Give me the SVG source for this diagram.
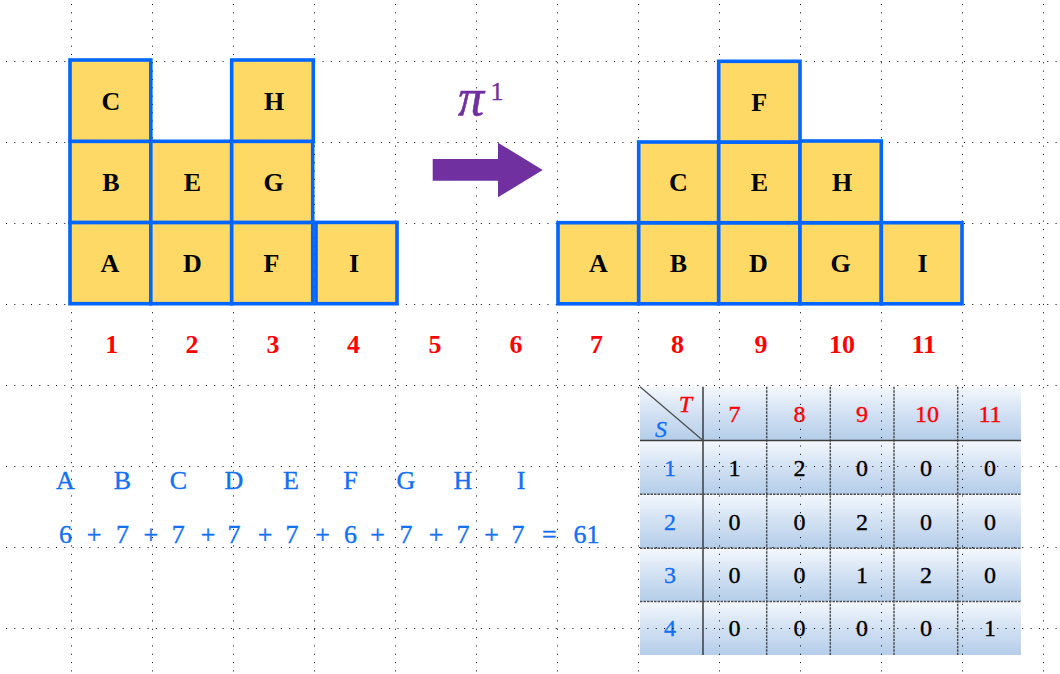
<svg xmlns="http://www.w3.org/2000/svg" width="1060" height="674" viewBox="0 0 1060 674">
<defs>
<linearGradient id="rowgrad" x1="0" y1="0" x2="0" y2="1">
<stop offset="0" stop-color="#F4F8FD"/>
<stop offset="0.45" stop-color="#D5E3F4"/>
<stop offset="1" stop-color="#B4CDE9"/>
</linearGradient>
<style>
.grid{stroke:#000;stroke-width:1;stroke-dasharray:1 7.33;fill:none}
.box{fill:#FFD966;stroke:#0066FF;stroke-width:3.6}
.lbl{font-family:"Liberation Serif",serif;font-weight:bold;font-size:26px;fill:#000;text-anchor:middle}
.num{font-family:"Liberation Serif",serif;font-weight:bold;font-size:26px;fill:#FF0000;text-anchor:middle}
.tv{font-family:"Liberation Serif",serif;font-size:24px;fill:#000;stroke:#000;stroke-width:0.35;text-anchor:middle}
.tr{font-family:"Liberation Serif",serif;font-size:24px;fill:#FF0000;stroke:#FF0000;stroke-width:0.35;text-anchor:middle}
.tb{font-family:"Liberation Serif",serif;font-size:24px;fill:#1470F0;stroke:#1470F0;stroke-width:0.35;text-anchor:middle}
.eq{font-family:"Liberation Serif",serif;font-size:26px;fill:#1470F0;stroke:#1470F0;stroke-width:0.4;text-anchor:middle}
.solid{stroke:#3C3C3C;stroke-width:1.5;fill:none}
.dash{stroke:#505050;stroke-width:1.5;stroke-dasharray:2.5 1;fill:none}
</style>
</defs>
<rect width="1060" height="674" fill="#FFFFFF"/>

<g id="table">
<rect x="640" y="386.7" width="381" height="53.8" fill="url(#rowgrad)"/>
<rect x="640" y="440.5" width="381" height="53.8" fill="url(#rowgrad)"/>
<rect x="640" y="494.3" width="381" height="54" fill="url(#rowgrad)"/>
<rect x="640" y="548.3" width="381" height="53.2" fill="url(#rowgrad)"/>
<rect x="640" y="601.5" width="381" height="53.5" fill="url(#rowgrad)"/>
<path class="dash" d="M640 494.3H1021M640 548.3H1021M640 601.5H1021M766.7 386.7V655M830.3 386.7V655M894 386.7V655M957.7 386.7V655"/>
<path class="solid" d="M640 440.5H1021M703 386.7V655"/>
<path d="M640 386.7L703 440.5" stroke="#505050" stroke-width="1.3" fill="none"/>
<text x="685.5" y="412" class="tr" font-style="italic">T</text>
<text x="661" y="437" class="tb" font-style="italic">S</text>
<text x="734.5" y="421.5" class="tr">7</text>
<text x="799.5" y="421.5" class="tr">8</text>
<text x="862" y="421.5" class="tr">9</text>
<text x="927" y="421.5" class="tr">10</text>
<text x="990" y="421.5" class="tr">11</text>
<text x="670" y="475.5" class="tb">1</text>
<text x="670" y="529.5" class="tb">2</text>
<text x="670" y="583" class="tb">3</text>
<text x="670" y="636" class="tb">4</text>
<text x="734.5" y="475.5" class="tv">1</text>
<text x="799.5" y="475.5" class="tv">2</text>
<text x="862" y="475.5" class="tv">0</text>
<text x="926" y="475.5" class="tv">0</text>
<text x="990" y="475.5" class="tv">0</text>
<text x="734.5" y="529.5" class="tv">0</text>
<text x="799.5" y="529.5" class="tv">0</text>
<text x="862" y="529.5" class="tv">2</text>
<text x="926" y="529.5" class="tv">0</text>
<text x="990" y="529.5" class="tv">0</text>
<text x="734.5" y="583" class="tv">0</text>
<text x="799.5" y="583" class="tv">0</text>
<text x="862" y="583" class="tv">1</text>
<text x="926" y="583" class="tv">2</text>
<text x="990" y="583" class="tv">0</text>
<text x="734.5" y="636" class="tv">0</text>
<text x="799.5" y="636" class="tv">0</text>
<text x="862" y="636" class="tv">0</text>
<text x="926" y="636" class="tv">0</text>
<text x="990" y="636" class="tv">1</text>
</g>

<g id="grid">
<path class="grid" stroke-dashoffset="-6" d="M0 61.5H1060M0 142.5H1060M0 223.5H1060M0 304.5H1060M0 385.5H1060M0 466.5H1060M0 547.5H1060M0 628.5H1060"/>
<path class="grid" stroke-dashoffset="-4" d="M71.5 0V674M152.5 0V674M233.5 0V674M314.5 0V674M395.5 0V674M476.5 0V674M557.5 0V674M638.5 0V674M719.5 0V674M800.5 0V674M881.5 0V674M962.5 0V674M1043.5 0V674"/>
</g>

<g id="connectors">
<polygon points="432.7,159 498,159 498,142.7 542.7,170 498,197.3 498,180.7 432.7,180.7" fill="#7030A0"/>
<text x="471" y="115" font-family="Liberation Serif, serif" font-style="italic" font-size="52" fill="#7030A0" stroke="#7030A0" stroke-width="0.6" text-anchor="middle">π</text>
<text x="497" y="99.5" font-family="Liberation Serif, serif" font-size="26" fill="#7030A0" stroke="#7030A0" stroke-width="0.3" text-anchor="middle">1</text>
</g>

<g id="left-stack">
<g id="L-A"><rect class="box" x="70" y="222.4" width="80.8" height="81.3"/><text class="lbl" x="110" y="272">A</text></g>
<g id="L-D"><rect class="box" x="150.8" y="222.4" width="80.9" height="81.3"/><text class="lbl" x="192.5" y="272">D</text></g>
<g id="L-F"><rect class="box" x="231.7" y="222.4" width="81" height="81.3"/><text class="lbl" x="271.5" y="272">F</text></g>
<g id="L-I"><rect class="box" x="316" y="222.4" width="81" height="81.3"/><text class="lbl" x="354" y="272">I</text></g>
<g id="L-B"><rect class="box" x="70" y="141.3" width="80.8" height="81.1"/><text class="lbl" x="110.8" y="191">B</text></g>
<g id="L-E"><rect class="box" x="150.8" y="141.3" width="80.9" height="81.1"/><text class="lbl" x="192.5" y="191">E</text></g>
<g id="L-G"><rect class="box" x="231.7" y="141.3" width="81" height="81.1"/><text class="lbl" x="273.5" y="191">G</text></g>
<g id="L-C"><rect class="box" x="70" y="60" width="80.8" height="81.3"/><text class="lbl" x="111" y="109.7">C</text></g>
<g id="L-H"><rect class="box" x="231.7" y="60" width="81.6" height="81.3"/><text class="lbl" x="274" y="109.7">H</text></g>
</g>

<g id="right-stack">
<g id="R-A"><rect class="box" x="558" y="222.7" width="80.7" height="81.1"/><text class="lbl" x="598.3" y="272.3">A</text></g>
<g id="R-B"><rect class="box" x="638.7" y="222.7" width="80" height="81.1"/><text class="lbl" x="678.5" y="272.3">B</text></g>
<g id="R-D"><rect class="box" x="718.7" y="222.7" width="81.3" height="81.1"/><text class="lbl" x="758.5" y="272.3">D</text></g>
<g id="R-G"><rect class="box" x="800" y="222.7" width="81.3" height="81.1"/><text class="lbl" x="840.5" y="272.3">G</text></g>
<g id="R-I"><rect class="box" x="881.3" y="222.7" width="80.7" height="81.1"/><text class="lbl" x="922.5" y="272.3">I</text></g>
<g id="R-C"><rect class="box" x="638.7" y="142" width="80" height="80.7"/><text class="lbl" x="678.5" y="191.4">C</text></g>
<g id="R-E"><rect class="box" x="718.7" y="142" width="81.3" height="80.7"/><text class="lbl" x="759.3" y="191.4">E</text></g>
<g id="R-H"><rect class="box" x="800" y="141" width="81.3" height="81.7"/><text class="lbl" x="842" y="191">H</text></g>
<g id="R-F"><rect class="box" x="718.7" y="61.3" width="81.3" height="80.7"/><text class="lbl" x="759.3" y="110.7">F</text></g>
</g>

<g id="positions">
<text class="num" x="111.7" y="353">1</text>
<text class="num" x="192" y="353">2</text>
<text class="num" x="273" y="353">3</text>
<text class="num" x="353.5" y="353">4</text>
<text class="num" x="435" y="353">5</text>
<text class="num" x="516" y="353">6</text>
<text class="num" x="596.5" y="353">7</text>
<text class="num" x="677.5" y="353">8</text>
<text class="num" x="761" y="353">9</text>
<text class="num" x="842" y="353">10</text>
<text class="num" x="923.7" y="353">11</text>
</g>

<g id="letters">
<text class="eq" x="65.5" y="489">A</text>
<text class="eq" x="122.5" y="489">B</text>
<text class="eq" x="178.3" y="489">C</text>
<text class="eq" x="234" y="489">D</text>
<text class="eq" x="291" y="489">E</text>
<text class="eq" x="350.4" y="489">F</text>
<text class="eq" x="406" y="489">G</text>
<text class="eq" x="463" y="489">H</text>
<text class="eq" x="521" y="489">I</text>
</g>

<g id="equation">
<text class="eq" x="65.5" y="543">6</text>
<text class="eq" x="94" y="543">+</text>
<text class="eq" x="122.5" y="543">7</text>
<text class="eq" x="150.8" y="543">+</text>
<text class="eq" x="178.3" y="543">7</text>
<text class="eq" x="208" y="543">+</text>
<text class="eq" x="234" y="543">7</text>
<text class="eq" x="265" y="543">+</text>
<text class="eq" x="292" y="543">7</text>
<text class="eq" x="322.5" y="543">+</text>
<text class="eq" x="350.4" y="543">6</text>
<text class="eq" x="377.5" y="543">+</text>
<text class="eq" x="406" y="543">7</text>
<text class="eq" x="436" y="543">+</text>
<text class="eq" x="463" y="543">7</text>
<text class="eq" x="491.7" y="543">+</text>
<text class="eq" x="518" y="543">7</text>
<text class="eq" x="549.3" y="543">=</text>
<text class="eq" x="586.5" y="543">61</text>
</g>
</svg>
